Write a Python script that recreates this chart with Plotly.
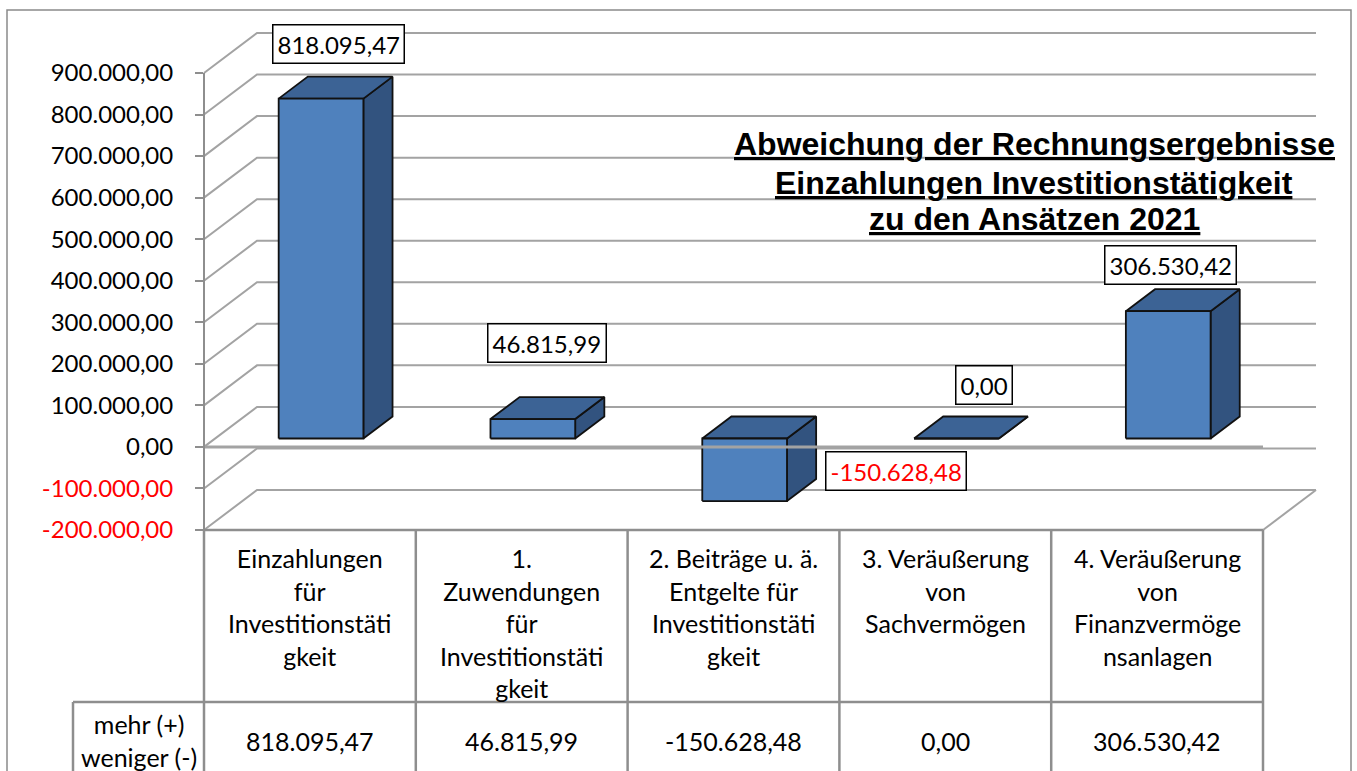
import plotly.graph_objects as go

# ---------------- data ----------------
header_lines = [
    ["Einzahlungen", "für", "Investitionstäti", "gkeit"],
    ["1.", "Zuwendungen", "für", "Investitionstäti", "gkeit"],
    ["2. Beiträge u. ä.", "Entgelte für", "Investitionstäti", "gkeit"],
    ["3. Veräußerung", "von", "Sachvermögen"],
    ["4. Veräußerung", "von", "Finanzvermöge", "nsanlagen"],
]
values = [818095.47, 46815.99, -150628.48, 0.00, 306530.42]
row_label = ["mehr (+)", "weniger (-)"]
tick_values = [-200000, -100000, 0, 100000, 200000, 300000, 400000,
               500000, 600000, 700000, 800000, 900000]
tick_labels = ["-200.000,00", "-100.000,00", "0,00", "100.000,00", "200.000,00",
               "300.000,00", "400.000,00", "500.000,00", "600.000,00",
               "700.000,00", "800.000,00", "900.000,00"]
title_lines = ["Abweichung der Rechnungsergebnisse",
               "Einzahlungen Investitionstätigkeit",
               "zu den Ansätzen 2021"]


def de(v):
    s = f"{v:,.2f}"
    return s.replace(",", "X").replace(".", ",").replace("X", ".")


# ---------------- layout constants (pixels) ----------------
W, H = 1357, 771
AX_L, AX_R = 204, 1263          # front plane left/right
Y_TOP, Y_BOT = 73, 530          # pixel of YMAX / YMIN on front plane
YMIN, YMAX = -200000, 900000
NCAT = len(values)
CAT_PX = (AX_R - AX_L) / NCAT
PPV = (Y_BOT - Y_TOP) / (YMAX - YMIN)  # pixels per value unit
DEPTH_PX = (53, 40)


def px_to_x(p):
    return (p - AX_L) / CAT_PX


def px_to_val(p):
    return YMAX - (p - Y_TOP) / PPV


def px_to_paper_y(p):
    return 1 - p / H


DX = DEPTH_PX[0] / CAT_PX
DY = DEPTH_PX[1] / PPV
BW = 0.4
F0, F1 = 0.21, 0.76

GRID = "#A3A3A3"
TABLE = "#8E8E8E"
FONT = "Lato"

fig = go.Figure()

# ---------------- walls / gridlines ----------------
gx, gy = [], []
for v in tick_values:
    gx += [0, DX, NCAT + DX, None]
    gy += [v, v + DY, v + DY, None]
gx += [NCAT, NCAT + DX, None]
gy += [YMIN, YMIN + DY, None]
fig.add_trace(go.Scatter(x=gx, y=gy, mode="lines",
                         line=dict(color=GRID, width=2),
                         hoverinfo="skip", showlegend=False))

# ---------------- 3D bars ----------------
FRONT = "#4F81BD"
TOP = "#3C6395"
SIDE = "#32537F"
OUT = dict(color="#111111", width=1.8)
bdx, bdy = (F1 - F0) * DX, (F1 - F0) * DY
for i, v in enumerate(values):
    lo, hi = min(v, 0), max(v, 0)
    x0 = i + 0.5 - BW / 2 + F0 * DX
    x1 = x0 + BW
    lo2, hi2 = lo + F0 * DY, hi + F0 * DY
    side = ([x1, x1 + bdx, x1 + bdx, x1, x1], [lo2, lo2 + bdy, hi2 + bdy, hi2, lo2])
    top = ([x0, x1, x1 + bdx, x0 + bdx, x0], [hi2, hi2, hi2 + bdy, hi2 + bdy, hi2])
    front = ([x0, x1, x1, x0, x0], [lo2, lo2, hi2, hi2, lo2])
    for (px, py), col in ((side, SIDE), (top, TOP), (front, FRONT)):
        fig.add_trace(go.Scatter(x=px, y=py, mode="lines", fill="toself",
                                 fillcolor=col, line=OUT,
                                 hoverinfo="skip", showlegend=False))

fig.add_trace(go.Scatter(x=[0, NCAT], y=[0, 0], mode="lines",
                         line=dict(color=GRID, width=3),
                         hoverinfo="skip", showlegend=False))
fig.add_trace(go.Scatter(x=[0, NCAT], y=[YMIN, YMIN], mode="lines",
                         line=dict(color=TABLE, width=2.5),
                         hoverinfo="skip", showlegend=False))

fig.add_trace(go.Scatter(x=[0], y=[0], yaxis="y2", mode="markers",
                         marker=dict(opacity=0), hoverinfo="skip",
                         showlegend=False))

# ---------------- data labels ----------------
label_shift = [(3, 44), (0, 65), (137, -43), (13, 43), (-12, 35)]
for i, v in enumerate(values):
    ax = i + 0.5 + (F0 + F1) / 2 * DX
    ay = max(v, 0) + (F0 + F1) / 2 * DY
    fig.add_annotation(x=ax, y=ay, xref="x", yref="y", text=de(v),
                       showarrow=False, xshift=label_shift[i][0],
                       yshift=label_shift[i][1],
                       font=dict(family=FONT, size=24,
                                 color="#FF0000" if v < 0 else "#000000"),
                       bgcolor="white", bordercolor="#000000",
                       borderwidth=1.5, borderpad=4)

# ---------------- title ----------------
for t, yp in zip(title_lines, [144, 183, 219]):
    fig.add_annotation(x=1034 / W, y=px_to_paper_y(yp), xref="paper",
                       yref="paper", text=f"<b>{t}</b>", showarrow=False,
                       xanchor="center", yanchor="middle",
                       font=dict(family="Liberation Sans", size=32,
                                 color="#000000", lineposition="under"))

# ---------------- data table ----------------
ROW_SPLIT = 702
LEFT_CELL = 73
shapes = []
for i in range(NCAT + 1):
    shapes.append(dict(type="line", xref="x", yref="paper", x0=i, x1=i,
                       y0=px_to_paper_y(Y_BOT), y1=0,
                       line=dict(color=TABLE, width=2.5)))
shapes.append(dict(type="line", xref="x", yref="paper",
                   x0=px_to_x(LEFT_CELL), x1=NCAT,
                   y0=px_to_paper_y(ROW_SPLIT), y1=px_to_paper_y(ROW_SPLIT),
                   line=dict(color=TABLE, width=2.5)))
shapes.append(dict(type="line", xref="x", yref="paper",
                   x0=px_to_x(LEFT_CELL), x1=px_to_x(LEFT_CELL),
                   y0=px_to_paper_y(ROW_SPLIT), y1=0,
                   line=dict(color=TABLE, width=2.5)))
shapes.append(dict(type="rect", xref="paper", yref="paper",
                   x0=7 / W, x1=1351 / W, y0=-0.01, y1=1 - 10 / H,
                   line=dict(color="#8A8A8A", width=1.5),
                   fillcolor="rgba(0,0,0,0)", layer="below"))

for i, lines in enumerate(header_lines):
    fig.add_annotation(x=i + 0.5, y=px_to_paper_y(541), xref="x", yref="paper",
                       text="<br>".join(lines), showarrow=False,
                       xanchor="center", yanchor="top", align="center",
                       font=dict(family=FONT, size=25, color="#000000"))
    fig.add_annotation(x=i + 0.5, y=px_to_paper_y(741), xref="x", yref="paper",
                       text=de(values[i]), showarrow=False,
                       xanchor="center", yanchor="middle",
                       font=dict(family=FONT, size=25, color="#000000"))
fig.add_annotation(x=px_to_x((LEFT_CELL + AX_L) / 2), y=px_to_paper_y(740),
                   xref="x", yref="paper", text="<br>".join(row_label),
                   showarrow=False, xanchor="center", yanchor="middle",
                   align="center",
                   font=dict(family=FONT, size=25, color="#000000"))

# ---------------- axes ----------------
tick_text = [f"<span style='color:#FF0000'>{t}</span>" if v < 0 else t
             for v, t in zip(tick_values, tick_labels)]
fig.update_layout(
    width=W, height=H, autosize=False,
    margin=dict(l=0, r=0, t=0, b=0, pad=0, autoexpand=False),
    paper_bgcolor="white", plot_bgcolor="rgba(0,0,0,0)",
    showlegend=False,
    shapes=shapes,
    xaxis=dict(range=[px_to_x(0), px_to_x(W)], domain=[0, 1],
               showgrid=False, zeroline=False, showline=False,
               showticklabels=False, ticks="", fixedrange=True,
               automargin=False),
    yaxis=dict(range=[px_to_val(H), px_to_val(0)], domain=[0, 1],
               showgrid=False, zeroline=False, showline=False,
               showticklabels=False, ticks="", fixedrange=True,
               automargin=False),
    yaxis2=dict(range=[YMIN, YMAX],
                domain=[px_to_paper_y(Y_BOT), px_to_paper_y(Y_TOP)],
                anchor="free", position=AX_L / W, side="left",
                tickvals=tick_values, ticktext=tick_text,
                ticks="outside", ticklen=8, tickwidth=2, tickcolor=TABLE,
                showline=True, linecolor=TABLE, linewidth=2,
                showgrid=False, zeroline=False, fixedrange=True,
                automargin=False, ticklabelstandoff=17,
                tickfont=dict(family=FONT, size=24, color="#000000")),
)

fig.write_html("out.html",
               config={"displayModeBar": False, "staticPlot": True},
               post_script="document.body.style.margin='0px';"
                           "document.body.style.overflow='hidden';")
